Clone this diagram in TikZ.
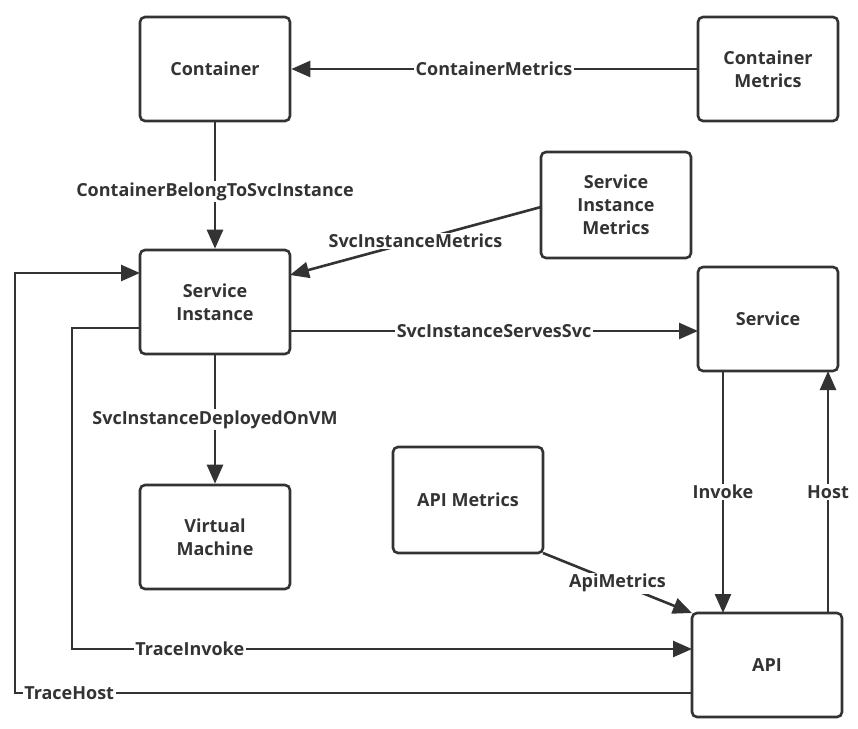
\documentclass[tikz,border=0pt]{standalone}
\usepackage{fontspec}
\setmainfont{Open Sans}
\usetikzlibrary{arrows.meta}
\definecolor{ink}{HTML}{333333}
\tikzset{
  x=1pt,y=-1pt,
  box/.style={draw=ink,line width=2.6pt,rounded corners=5pt,minimum width=150pt,minimum height=104pt,align=center,font=\bfseries\fontsize{18}{23}\selectfont,text=ink,inner sep=0pt},
  conn/.style={draw=ink,line width=2.6pt,-{Triangle[length=19pt,width=16pt]}},
  lbl/.style={fill=white,text=ink,font=\bfseries\fontsize{18}{23}\selectfont,inner sep=1.5pt}
}
\begin{document}
\begin{tikzpicture}
\useasboundingbox (0,0) rectangle (858,728);
\node[box] (cont) at (215,69) {Container};
\node[box,minimum width=140pt] (cm) at (768,69) {Container\\Metrics};
\node[box,minimum height=106pt] (sim) at (616,205) {Service\\Instance\\Metrics};
\node[box] (si) at (215,302) {Service\\Instance};
\node[box,minimum width=140pt] (svc) at (768,319) {Service};
\node[box] (vm) at (215,537) {Virtual\\Machine};
\node[box,minimum height=106pt] (apim) at (468,500) {API Metrics};
\node[box] (api) at (767,665) {API};

\draw[conn] (cm.west) -- node[lbl] {ContainerMetrics} (cont.east);
\draw[conn] (cont.south) -- node[lbl,pos=0.55] {ContainerBelongToSvcInstance} (si.north);
\coordinate (simA) at (541,207);
\coordinate (siA) at (290,275);
\draw[conn] (simA) -- node[lbl,pos=0.5] {SvcInstanceMetrics} (siA);
\coordinate (siR) at (290,331);
\coordinate (svcL) at (698,331);
\draw[conn] (siR) -- node[lbl,pos=0.5] {SvcInstanceServesSvc} (svcL);
\draw[conn] (si.south) -- node[lbl,pos=0.5] {SvcInstanceDeployedOnVM} (vm.north);
\coordinate (svcB1) at (723,371);
\coordinate (apiT1) at (723,613);
\draw[conn] (svcB1) -- node[lbl,pos=0.5] {Invoke} (apiT1);
\coordinate (svcB2) at (828,371);
\coordinate (apiT2) at (828,613);
\draw[conn] (apiT2) -- node[lbl,pos=0.5] {Host} (svcB2);
\coordinate (apimC) at (543,553);
\coordinate (apiC) at (692,613);
\draw[conn] (apimC) -- node[lbl,pos=0.5] {ApiMetrics} (apiC);
\coordinate (siL1) at (140,328);
\coordinate (apiL1) at (692,649);
\draw[conn] (siL1) -- (72,328) -- (72,649) -- node[lbl,pos=0.19] {TraceInvoke} (apiL1);
\coordinate (apiL2) at (692,693);
\coordinate (siL2) at (140,273);
\draw[conn] (apiL2) -- node[lbl,pos=0.92] {TraceHost} (15,693) -- (15,273) -- (siL2);
\end{tikzpicture}
\end{document}
